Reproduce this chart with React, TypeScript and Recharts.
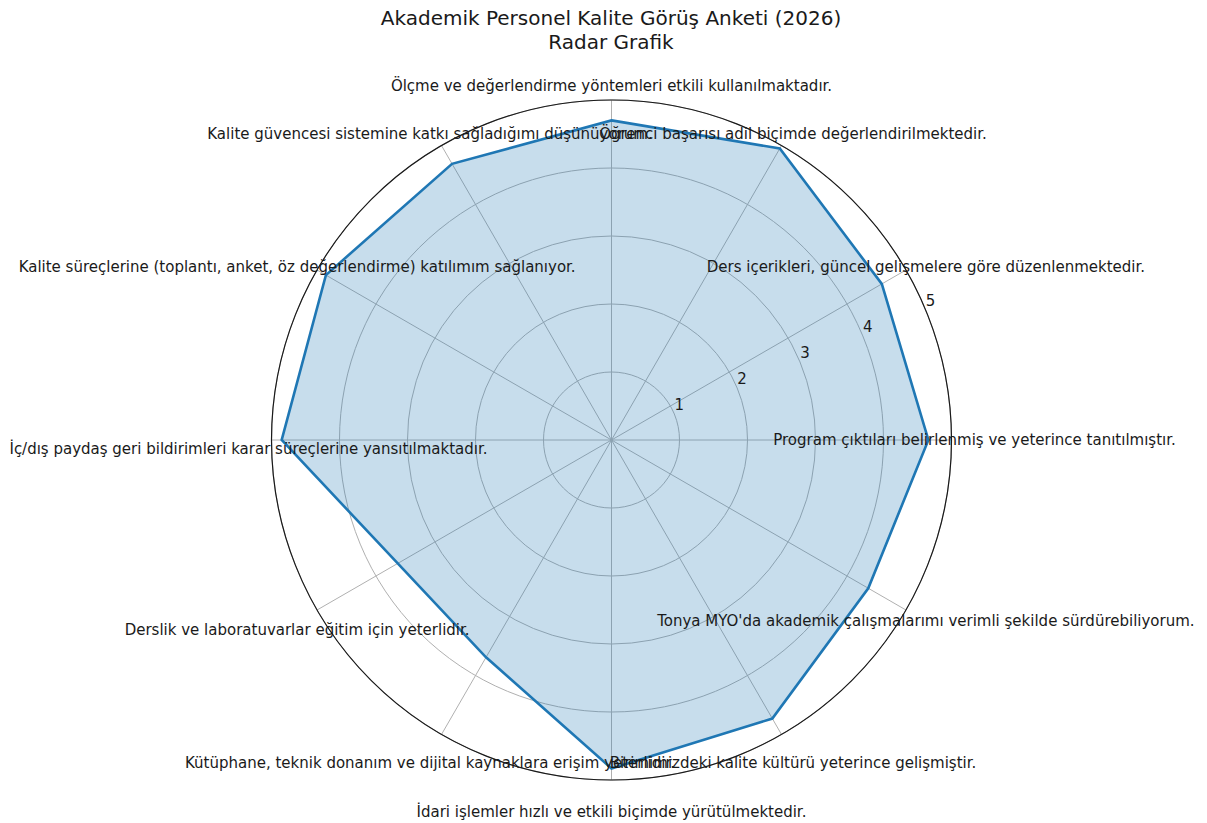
import React from 'react';
import { RadarChart, Radar, PolarGrid, PolarAngleAxis, PolarRadiusAxis } from 'recharts';

// Categories listed clockwise starting from the top axis
const categories: string[] = [
  'Ölçme ve değerlendirme yöntemleri etkili kullanılmaktadır.',
  'Öğrenci başarısı adil biçimde değerlendirilmektedir.',
  'Ders içerikleri, güncel gelişmelere göre düzenlenmektedir.',
  'Program çıktıları belirlenmiş ve yeterince tanıtılmıştır.',
  "Tonya MYO'da akademik çalışmalarımı verimli şekilde sürdürebiliyorum.",
  'Birimimizdeki kalite kültürü yeterince gelişmiştir.',
  'İdari işlemler hızlı ve etkili biçimde yürütülmektedir.',
  'Kütüphane, teknik donanım ve dijital kaynaklara erişim yeterlidir.',
  'Derslik ve laboratuvarlar eğitim için yeterlidir.',
  'İç/dış paydaş geri bildirimleri karar süreçlerine yansıtılmaktadır.',
  'Kalite süreçlerine (toplantı, anket, öz değerlendirme) katılımım sağlanıyor.',
  'Kalite güvencesi sistemine katkı sağladığımı düşünüyorum.',
];

const scores: number[] = [4.70, 4.95, 4.59, 4.66, 4.36, 4.73, 4.83, 3.69, 3.63, 4.85, 4.85, 4.69];

const radiusTicks: number[] = [0, 1, 2, 3, 4, 5];

const titleLines: string[] = ['Akademik Personel Kalite Görüş Anketi (2026)', 'Radar Grafik'];

const data = categories.map((c, i) => ({ category: c, value: scores[i] }));

const W = 1207;
const H = 823;
const CX = 611.5;
const CY = 440;
const R = 340;
const LABEL_R = 363;
const FONT = '"DejaVu Sans", sans-serif';

const AngleTick = (props: any) => {
  const { payload } = props;
  const angle = payload.coordinate as number;
  const rad = (angle * Math.PI) / 180;
  const x = CX + LABEL_R * Math.cos(rad);
  const yc = CY - LABEL_R * Math.sin(rad);
  const a = ((Math.round(angle) % 360) + 360) % 360;
  const shift = a === 0 || a === 330 ? 4.8 : 13.8;
  return (
    <text x={x} y={yc + shift} textAnchor="middle" fontSize={15} fontFamily={FONT} fill="#1a1a1a">
      {payload.value}
    </text>
  );
};

const RadiusTick = (props: any) => {
  const { x, y, payload } = props;
  if (payload.value === 0) return null;
  return (
    <text x={x + 5} y={y - 3.5} textAnchor="middle" fontSize={15} fontFamily={FONT} fill="#1a1a1a">
      {payload.value}
    </text>
  );
};

export default function App() {
  return (
    <div style={{ position: 'absolute', left: 0, top: 0, width: W, height: H, background: '#fff' }}>
      <RadarChart
        width={W}
        height={H}
        data={data}
        cx={CX}
        cy={CY}
        outerRadius={R}
        startAngle={90}
        endAngle={-270}
        margin={{ top: 0, right: 0, bottom: 0, left: 0 }}
      >
        <PolarGrid gridType="circle" stroke="#b0b0b0" strokeWidth={1} />
        <PolarAngleAxis
          dataKey="category"
          axisLineType="circle"
          axisLine={{ stroke: '#1a1a1a', strokeWidth: 1.2 }}
          tickLine={false}
          tick={<AngleTick />}
        />
        <PolarRadiusAxis
          angle={22.5}
          domain={[0, 5]}
          ticks={radiusTicks as any}
          tickCount={6}
          axisLine={false}
          tick={<RadiusTick />}
        />
        <Radar
          dataKey="value"
          stroke="#1f77b4"
          strokeWidth={2.6}
          fill="#1f77b4"
          fillOpacity={0.25}
          dot={false}
          isAnimationActive={false}
        />
      </RadarChart>
      <svg
        width={W}
        height={60}
        style={{ position: 'absolute', left: 0, top: 0, pointerEvents: 'none' }}
      >
        {titleLines.map((t, i) => (
          <text
            key={i}
            x={611}
            y={25 + i * 24}
            textAnchor="middle"
            fontSize={20}
            fontFamily={FONT}
            fill="#1a1a1a"
          >
            {t}
          </text>
        ))}
      </svg>
    </div>
  );
}
